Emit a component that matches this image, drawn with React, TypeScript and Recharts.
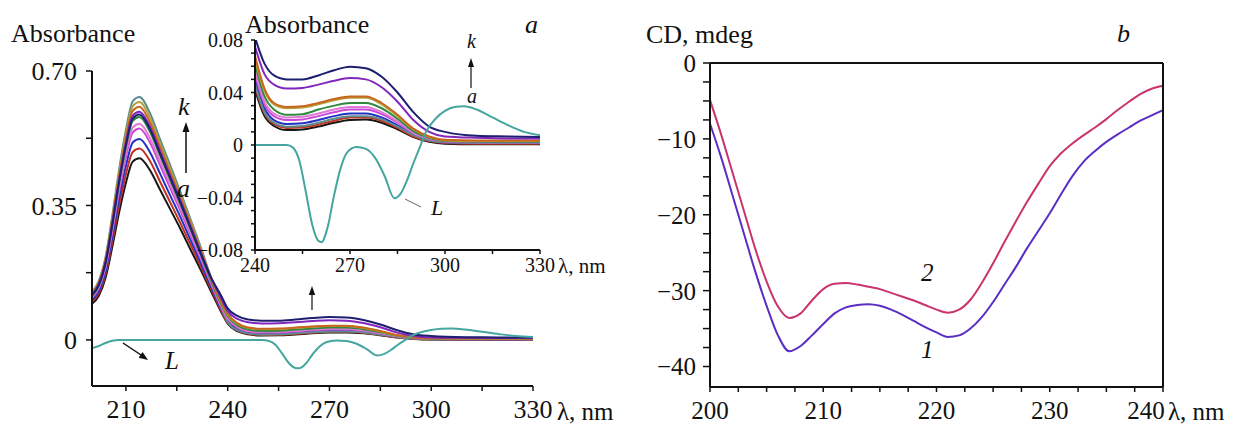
import React from 'react';
import { LineChart, Line, XAxis, YAxis } from 'recharts';

const FONT = 'Liberation Serif, DejaVu Serif, Times New Roman, serif';

// panel a: wavelength grid shared by the titration curves a..k
const lambdaA = [200, 202, 204, 206, 208, 210, 212, 214, 217, 220, 223, 226, 229, 232, 235, 238, 240, 243, 246, 250, 255, 260, 265, 270, 275, 280, 285, 290, 295, 300, 310, 320, 330];

const curveBlack = [0.094, 0.115, 0.162, 0.243, 0.332, 0.409, 0.464, 0.473, 0.443, 0.392, 0.341, 0.29, 0.236, 0.183, 0.128, 0.074, 0.042, 0.022, 0.0145, 0.0114, 0.0118, 0.014, 0.017, 0.019, 0.0195, 0.017, 0.012, 0.006, 0.0025, 0.001, 0.0005, 0.0005, 0.0005];
const curveRed = [0.099, 0.121, 0.171, 0.256, 0.35, 0.431, 0.489, 0.498, 0.467, 0.413, 0.359, 0.305, 0.249, 0.193, 0.134, 0.078, 0.044, 0.024, 0.016, 0.013, 0.0135, 0.0155, 0.0185, 0.021, 0.021, 0.0185, 0.013, 0.0065, 0.003, 0.0015, 0.001, 0.001, 0.001];
const curveBlue = [0.104, 0.127, 0.179, 0.269, 0.368, 0.453, 0.514, 0.523, 0.49, 0.434, 0.377, 0.321, 0.261, 0.202, 0.141, 0.082, 0.05, 0.028, 0.019, 0.016, 0.0165, 0.019, 0.022, 0.024, 0.024, 0.021, 0.015, 0.008, 0.004, 0.002, 0.0015, 0.0015, 0.0015];
const curveGrey = [0.125, 0.154, 0.216, 0.325, 0.444, 0.547, 0.621, 0.632, 0.592, 0.524, 0.456, 0.387, 0.315, 0.243, 0.164, 0.087, 0.046, 0.025, 0.017, 0.014, 0.0145, 0.017, 0.02, 0.022, 0.022, 0.0195, 0.014, 0.0075, 0.0035, 0.002, 0.0015, 0.0015, 0.0015];
const curveMagenta = [0.109, 0.134, 0.188, 0.282, 0.386, 0.476, 0.54, 0.55, 0.515, 0.456, 0.396, 0.337, 0.275, 0.212, 0.148, 0.086, 0.054, 0.031, 0.022, 0.019, 0.0195, 0.022, 0.025, 0.027, 0.027, 0.0235, 0.017, 0.009, 0.0045, 0.0025, 0.002, 0.002, 0.002];
const curvePink = [0.112, 0.137, 0.193, 0.289, 0.395, 0.487, 0.553, 0.563, 0.527, 0.466, 0.406, 0.345, 0.281, 0.217, 0.151, 0.089, 0.057, 0.033, 0.024, 0.021, 0.0215, 0.024, 0.027, 0.029, 0.029, 0.025, 0.018, 0.0095, 0.005, 0.003, 0.0025, 0.0025, 0.0025];
const curveGreen = [0.115, 0.141, 0.199, 0.298, 0.408, 0.502, 0.57, 0.58, 0.543, 0.481, 0.418, 0.355, 0.289, 0.223, 0.156, 0.094, 0.062, 0.037, 0.027, 0.023, 0.0235, 0.027, 0.03, 0.032, 0.032, 0.028, 0.02, 0.0105, 0.0055, 0.003, 0.0025, 0.0025, 0.0025];
const curveOlive = [0.123, 0.151, 0.212, 0.318, 0.435, 0.536, 0.608, 0.619, 0.58, 0.513, 0.446, 0.379, 0.309, 0.238, 0.163, 0.099, 0.065, 0.041, 0.031, 0.028, 0.0285, 0.031, 0.034, 0.036, 0.036, 0.031, 0.022, 0.012, 0.006, 0.0035, 0.003, 0.003, 0.003];
const curveOrange = [0.12, 0.148, 0.208, 0.312, 0.426, 0.525, 0.596, 0.607, 0.568, 0.503, 0.437, 0.372, 0.303, 0.234, 0.162, 0.102, 0.068, 0.043, 0.032, 0.029, 0.0295, 0.032, 0.035, 0.037, 0.037, 0.032, 0.023, 0.0125, 0.0065, 0.004, 0.0035, 0.0035, 0.0035];
const curvePurple = [0.118, 0.145, 0.203, 0.305, 0.418, 0.514, 0.584, 0.594, 0.557, 0.493, 0.428, 0.364, 0.297, 0.229, 0.164, 0.109, 0.075, 0.054, 0.046, 0.043, 0.0435, 0.046, 0.049, 0.051, 0.05, 0.044, 0.033, 0.019, 0.01, 0.0065, 0.0055, 0.005, 0.005];
const curveNavy = [0.116, 0.143, 0.201, 0.301, 0.412, 0.507, 0.576, 0.587, 0.55, 0.486, 0.423, 0.359, 0.293, 0.226, 0.164, 0.116, 0.082, 0.062, 0.053, 0.05, 0.05, 0.053, 0.057, 0.0597, 0.0585, 0.052, 0.04, 0.025, 0.014, 0.01, 0.007, 0.0065, 0.006];

const curvesA = [curveBlack, curveRed, curveBlue, curveGrey, curveMagenta, curvePink, curveGreen, curveOlive, curveOrange, curvePurple, curveNavy];
const curveColors = ['#161616', '#c3321f', '#2232c4', '#5e8c8e', '#c84ad4', '#e07ad6', '#2e8a3c', '#b3a23e', '#c9651e', '#8226bd', '#1e1f70'];

// ligand spectrum L
const lambdaL = [200, 202, 204, 206, 208, 210, 230, 240, 250, 252, 254, 256, 258, 260, 261, 263, 265, 267, 269, 272, 275, 278, 281, 284, 286, 288, 290, 292, 294, 297, 300, 303, 306, 310, 315, 320, 325, 330];
const ligand = [-0.021, -0.016, -0.008, -0.002, 0, 0, 0, 0, 0, -0.002, -0.012, -0.035, -0.06, -0.073, -0.074, -0.062, -0.038, -0.018, -0.006, -0.0015, -0.003, -0.01, -0.024, -0.0405, -0.037, -0.027, -0.014, -0.002, 0.01, 0.02, 0.026, 0.029, 0.0295, 0.027, 0.021, 0.015, 0.01, 0.0075];

const mainXTicks = [210, 225, 240, 255, 270, 285, 300, 315, 330];
const mainXLabels = [210, 240, 270, 300, 330];
const mainYTicks = [0, 0.175, 0.35, 0.525, 0.7];
const mainYLabels = [0, 0.35, 0.7];

const insetXTicks = [240, 255, 270, 285, 300, 315, 330];
const insetXLabels = [240, 270, 300, 330];
const insetYTicks = [-0.08, -0.07, -0.06, -0.05, -0.04, -0.03, -0.02, -0.01, 0, 0.01, 0.02, 0.03, 0.04, 0.05, 0.06, 0.07, 0.08];
const insetYLabels = [-0.08, -0.04, 0, 0.04, 0.08];

// panel b: CD spectra
const lambdaB = [200, 201, 202, 203, 204, 205, 206, 207, 208, 209, 210, 211, 212, 213, 214, 215, 216, 217, 218, 219, 220, 221, 222, 223, 224, 225, 226, 227, 228, 229, 230, 231, 232, 233, 234, 235, 236, 237, 238, 239, 240];
const cd1 = [-8, -12.5, -17.5, -22.5, -27.5, -32, -35.9, -38, -37.3, -35.9, -34.4, -33, -32.2, -31.9, -31.8, -32, -32.5, -33.2, -34, -34.8, -35.5, -36.1, -35.9, -35, -33.5, -31.5, -29.2, -26.9, -24.4, -22.1, -19.8, -17.3, -14.9, -13, -11.6, -10.4, -9.4, -8.5, -7.6, -6.9, -6.2];
const cd2 = [-4.9, -9.5, -14.5, -19.5, -24.5, -28.8, -32.1, -33.6, -33, -31.3, -29.8, -29.1, -29, -29.2, -29.5, -29.8, -30.3, -30.8, -31.3, -31.9, -32.5, -32.9, -32.5, -31.2, -29, -26.4, -23.6, -20.9, -18.3, -15.9, -13.6, -11.9, -10.6, -9.5, -8.5, -7.4, -6.2, -5.1, -4.1, -3.4, -3];

const bXTicks = [200, 202.5, 205, 207.5, 210, 212.5, 215, 217.5, 220, 222.5, 225, 227.5, 230, 232.5, 235, 237.5, 240];
const bXLabels = [200, 210, 220, 230, 240];
const bTopTicks = [204, 208, 212, 216, 220, 224, 228, 232, 236];
const bYTicks = [-40, -37.5, -35, -32.5, -30, -27.5, -25, -22.5, -20, -17.5, -15, -12.5, -10, -7.5, -5, -2.5, 0];
const bYLabels = [-40, -30, -20, -10, 0];
const bRightTicks = [-38.3, -34.2, -29.8, -25.6, -21.2, -17, -12.8, -8.4, -4.4];

const fmtSigned = (v: number, digits: number) => {
  if (v === 0) return '0';
  const s = Math.abs(v).toFixed(digits);
  return v < 0 ? '\u2212' + s : s;
};

const axisLine = { stroke: '#111', strokeWidth: 2 };
const tickLine = { stroke: '#111', strokeWidth: 1.5 };
const tickText = (size: number) => ({ fontSize: size, fill: '#111', fontFamily: FONT, style: { fontFamily: FONT } });

const BTick = (props: any) => {
  const { x, y, payload } = props;
  const v = payload.value;
  if (!bXLabels.includes(v)) return null;
  const dx = v === 240 ? -17 : 0;
  return (
    <text x={x + dx} y={y} dy="0.71em" textAnchor="middle" fontSize={25} fill="#111" style={{ fontFamily: FONT }}>
      {v}
    </text>
  );
};

const abs = { position: 'absolute' as const, left: 0, top: 0 };

export default function App() {
  const insetData = curvesA.map((vals) =>
    lambdaA.map((x, i) => ({ x, y: vals[i] })).filter((p) => p.x >= 240)
  );
  const ligandData = lambdaL.map((x, i) => ({ x, y: ligand[i] }));
  const bData = lambdaB.map((x, i) => ({ x, c1: cd1[i], c2: cd2[i] }));

  return (
    <div style={{ position: 'absolute', left: 0, top: 0, width: 1237, height: 425, background: '#fff', overflow: 'hidden', fontFamily: FONT }}>
      {/* panel a, main */}
      <div style={abs}>
        <LineChart width={1237} height={425} margin={{ top: 71, right: 704, bottom: 0, left: 12 }}>
          <XAxis
            type="number" dataKey="x" domain={[200, 330]} ticks={mainXTicks} interval={0} height={39}
            tickSize={5} tickMargin={9} axisLine={axisLine} tickLine={tickLine} tick={tickText(26)}
            tickFormatter={(v: number) => (mainXLabels.includes(v) ? String(v) : '')}
          />
          <YAxis
            type="number" domain={[-0.12, 0.7]} ticks={mainYTicks} interval={0} width={80}
            tickSize={6} tickMargin={9} axisLine={axisLine} tickLine={tickLine} tick={tickText(26)}
            tickFormatter={(v: number) => (mainYLabels.includes(v) ? fmtSigned(v, 2) : '')}
          />
          {curvesA.map((vals, k) => (
            <Line
              key={k} data={lambdaA.map((x, i) => ({ x, y: vals[i] }))} dataKey="y" type="monotone"
              stroke={curveColors[k]} strokeWidth={2} dot={false} isAnimationActive={false}
            />
          ))}
          <Line data={ligandData} dataKey="y" type="monotone" stroke="#45a6a1" strokeWidth={2} dot={false} isAnimationActive={false} />
        </LineChart>
      </div>

      {/* panel a, inset */}
      <div style={abs}>
        <LineChart width={1237} height={425} margin={{ top: 40, right: 697, bottom: 145, left: 195 }}>
          <XAxis
            type="number" dataKey="x" domain={[240, 330]} ticks={insetXTicks} interval={0} height={30}
            tickSize={4} tickMargin={4} axisLine={axisLine} tickLine={tickLine} tick={tickText(20)}
            tickFormatter={(v: number) => (insetXLabels.includes(v) ? String(v) : '')}
            allowDataOverflow
          />
          <YAxis
            type="number" domain={[-0.08, 0.08]} ticks={insetYTicks} interval={0} width={60}
            tickSize={4} tickMargin={8} axisLine={axisLine} tickLine={tickLine} tick={tickText(20)}
            tickFormatter={(v: number) => (insetYLabels.includes(v) ? fmtSigned(v, 2) : '')}
            allowDataOverflow
          />
          {insetData.map((d, k) => (
            <Line
              key={k} data={d} dataKey="y" type="monotone" stroke={curveColors[k]} strokeWidth={2}
              dot={false} isAnimationActive={false}
            />
          ))}
          <Line
            data={ligandData.filter((p) => p.x >= 240)} dataKey="y" type="monotone" stroke="#45a6a1"
            strokeWidth={2} dot={false} isAnimationActive={false}
          />
        </LineChart>
      </div>

      {/* panel b */}
      <div style={abs}>
        <LineChart width={1237} height={425} data={bData} margin={{ top: 58, right: 69, bottom: 0, left: 650 }}>
          <XAxis
            xAxisId="bottom" type="number" dataKey="x" domain={[200, 240]} ticks={bXTicks} interval={0} height={38}
            tickSize={5} tickMargin={9} axisLine={axisLine} tickLine={tickLine} tick={<BTick />}
          />
          <XAxis
            xAxisId="top" orientation="top" type="number" dataKey="x" domain={[200, 240]} ticks={bTopTicks}
            interval={0} height={5} tickSize={-5} axisLine={axisLine} tickLine={tickLine} tick={false}
          />
          <YAxis
            yAxisId="left" type="number" domain={[-42.7, 0]} ticks={bYTicks} interval={0} width={60}
            tickSize={7} tickMargin={7} axisLine={axisLine} tickLine={tickLine} tick={tickText(25)}
            tickFormatter={(v: number) => (bYLabels.includes(v) ? fmtSigned(v, 0) : '')}
          />
          <YAxis
            yAxisId="right" orientation="right" type="number" domain={[-42.7, 0]} ticks={bRightTicks}
            interval={0} width={5} tickSize={-5} axisLine={axisLine} tickLine={tickLine} tick={false}
          />
          <Line xAxisId="bottom" yAxisId="left" dataKey="c1" type="monotone" stroke="#5a2ec4" strokeWidth={2} dot={false} isAnimationActive={false} />
          <Line xAxisId="bottom" yAxisId="left" dataKey="c2" type="monotone" stroke="#c9336e" strokeWidth={2} dot={false} isAnimationActive={false} />
        </LineChart>
      </div>

      {/* titles and annotations */}
      <svg width={1237} height={425} style={{ ...abs, pointerEvents: 'none', fontFamily: FONT }} fill="#111">
        <text x={11} y={42} fontSize={26}>Absorbance</text>
        <text x={245} y={33} fontSize={26}>Absorbance</text>
        <text x={525} y={33} fontSize={26} fontStyle="italic">a</text>
        <text x={557} y={420} fontSize={25}>λ, nm</text>
        <text x={558} y={273} fontSize={21}>λ, nm</text>

        <text x={178} y={115} fontSize={26} fontStyle="italic">k</text>
        <line x1={186} y1={173} x2={186} y2={130} stroke="#111" strokeWidth={1.5} />
        <polygon points="186,122 182.5,132 189.5,132" fill="#111" />
        <text x={177} y={197} fontSize={26} fontStyle="italic">a</text>

        <line x1={312} y1={310} x2={312} y2={294} stroke="#111" strokeWidth={1.2} />
        <polygon points="312,286 308.8,295 315.2,295" fill="#111" />

        <line x1={123} y1={343} x2={141} y2={355} stroke="#111" strokeWidth={1.5} />
        <polygon points="148,360 138.6,357.8 142.6,352" fill="#111" />
        <text x={165} y={369} fontSize={25} fontStyle="italic">L</text>

        <text x={467} y={48} fontSize={20} fontStyle="italic">k</text>
        <line x1={471} y1={88} x2={471} y2={65} stroke="#111" strokeWidth={1.2} />
        <polygon points="471,58 468,67 474,67" fill="#111" />
        <text x={467} y={103} fontSize={20} fontStyle="italic">a</text>
        <line x1={405} y1={199} x2={421} y2={207} stroke="#666" strokeWidth={1} />
        <text x={431} y={215} fontSize={22} fontStyle="italic">L</text>

        <text x={646} y={43} fontSize={26}>CD, mdeg</text>
        <text x={1117} y={42} fontSize={26} fontStyle="italic">b</text>
        <text x={1168} y={420} fontSize={25}>λ, nm</text>
        <text x={921} y={281} fontSize={25} fontStyle="italic">2</text>
        <text x={921} y={358} fontSize={25} fontStyle="italic">1</text>
      </svg>
    </div>
  );
}
